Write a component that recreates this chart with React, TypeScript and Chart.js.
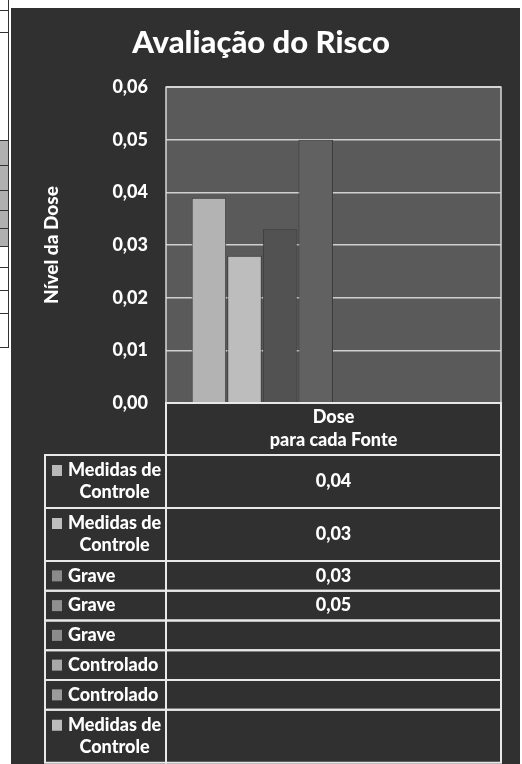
import React, { useEffect, useRef } from 'react';
import { Chart, registerables } from 'chart.js';

Chart.register(...registerables);

const chartTitle = 'Avaliação do Risco';
const yAxisTitle = 'Nível da Dose';
const categoryLabel = ['Dose', 'para cada Fonte'];
const seriesNames: string[][] = [
  ['Medidas de', 'Controle'],
  ['Medidas de', 'Controle'],
  ['Grave'],
  ['Grave'],
  ['Grave'],
  ['Controlado'],
  ['Controlado'],
  ['Medidas de', 'Controle'],
];
const seriesValues: (number | null)[] = [0.039, 0.028, 0.033, 0.05, null, null, null, null];
const seriesColors = ['#b3b3b3', '#bdbdbd', '#525252', '#616161', '#8c8c8c', '#9a9a9a', '#8f8f8f', '#b0b0b0'];
const keyColors = ['#b8b8b8', '#bebebe', '#8a8a8a', '#909090', '#8c8c8c', '#a8a8a8', '#9c9c9c', '#bcbcbc'];
const yMin = 0;
const yMax = 0.06;
const yStep = 0.01;

const FONT = 'Lato, "Open Sans", sans-serif';
const W = '900';
const fmt = (v: number) => v.toFixed(2).replace('.', ',');

const tablePlugin = {
  id: 'dataTable',
  beforeDraw(chart: any) {
    const { ctx, chartArea: a } = chart;
    ctx.save();
    ctx.fillStyle = '#5a5a5a';
    ctx.fillRect(a.left, a.top, a.right - a.left, a.bottom - a.top);
    ctx.restore();
  },
  afterDraw(chart: any) {
    const { ctx, chartArea: a } = chart;
    const L = 34;
    const M = a.left;
    const R = a.right;
    const headerH = 52;
    const oneRow = 29.75;
    const twoRow = 53;
    ctx.save();
    ctx.strokeStyle = '#d8d8d8';
    ctx.lineWidth = 1.5;
    ctx.strokeRect(a.left, a.top, a.right - a.left, a.bottom - a.top);
    ctx.strokeStyle = '#e8e8e8';
    ctx.lineWidth = 2;
    let y = a.bottom;
    ctx.strokeRect(M, y, R - M, headerH);
    ctx.fillStyle = '#ffffff';
    ctx.font = `${W} 18px ${FONT}`;
    ctx.textAlign = 'center';
    ctx.textBaseline = 'middle';
    const cx = (M + R) / 2;
    const n = categoryLabel.length;
    categoryLabel.forEach((t, i) => {
      ctx.fillText(t, cx, y + headerH / 2 + (i - (n - 1) / 2) * 23);
    });
    y += headerH;
    seriesNames.forEach((lines, i) => {
      const h = lines.length > 1 ? twoRow : oneRow;
      ctx.strokeStyle = '#e8e8e8';
      ctx.strokeRect(L, y, M - L, h);
      ctx.strokeRect(M, y, R - M, h);
      const mid = y + h / 2;
      const firstY = mid - (lines.length - 1) * 11;
      ctx.fillStyle = keyColors[i];
      ctx.fillRect(41, firstY - 5.5, 10, 11);
      ctx.fillStyle = '#ffffff';
      ctx.textAlign = 'left';
      const x0 = 57;
      const w0 = ctx.measureText(lines[0]).width;
      ctx.fillText(lines[0], x0, firstY);
      ctx.textAlign = 'center';
      for (let j = 1; j < lines.length; j++) {
        ctx.fillText(lines[j], x0 + w0 / 2, firstY + j * 22);
      }
      const v = chart.data.datasets[i].data[0];
      if (v != null) ctx.fillText(fmt(v), cx, mid);
      y += h;
    });
    ctx.restore();
  },
};

function ChartView() {
  const ref = useRef<HTMLCanvasElement>(null);
  useEffect(() => {
    if (!ref.current) return;
    const chart = new Chart(ref.current, {
      type: 'bar',
      data: {
        labels: [categoryLabel],
        datasets: seriesNames.map((name, i) => ({
          label: name.join(' '),
          data: [seriesValues[i]],
          backgroundColor: seriesColors[i],
          borderColor: '#3a3a3a',
          borderWidth: 1,
          categoryPercentage: 0.85,
          barPercentage: 0.97,
        })),
      },
      options: {
        animation: false,
        responsive: true,
        maintainAspectRatio: false,
        layout: { padding: { left: 10, right: 19, top: 0, bottom: 361 } },
        plugins: {
          legend: { display: false },
          tooltip: { enabled: false },
          title: {
            display: true,
            text: chartTitle,
            color: '#ffffff',
            font: { family: FONT, size: 31, weight: W },
            padding: { top: 16, bottom: 26 },
          },
        },
        scales: {
          x: { display: false },
          y: {
            min: yMin,
            max: yMax,
            ticks: {
              stepSize: yStep,
              color: '#ffffff',
              font: { family: FONT, size: 18, weight: W },
              padding: 18,
              callback: (v: any) => fmt(Number(v)),
            },
            grid: { color: '#d0d0d0', lineWidth: 1.5, drawTicks: false },
            border: { display: false },
            title: {
              display: true,
              text: yAxisTitle,
              color: '#ffffff',
              font: { family: FONT, size: 19, weight: W },
              padding: { top: 19, bottom: 0 },
            },
            afterFit: (s: any) => {
              s.width = 145;
            },
          },
        },
      },
      plugins: [tablePlugin],
    } as any);
    return () => chart.destroy();
  }, []);
  return <canvas ref={ref} />;
}

const hLines = [10, 32, 140, 165, 190, 210, 228, 246, 267, 290, 313, 347];

export default function App() {
  return (
    <div style={{ position: 'absolute', left: 0, top: 0, width: 522, height: 764, background: '#ffffff', overflow: 'hidden' }}>
      <div style={{ position: 'absolute', left: 0, top: 140, width: 8, height: 106, background: '#b0b0b0' }} />
      {hLines.map((yy) => (
        <div key={yy} style={{ position: 'absolute', left: 0, top: yy, width: 8, height: 1, background: '#333' }} />
      ))}
      <div style={{ position: 'absolute', left: 8, top: 0, width: 1, height: 348, background: '#333' }} />
      <div style={{ position: 'absolute', left: 11, top: 8, width: 509, height: 756, background: '#303030' }}>
        <ChartView />
      </div>
    </div>
  );
}
